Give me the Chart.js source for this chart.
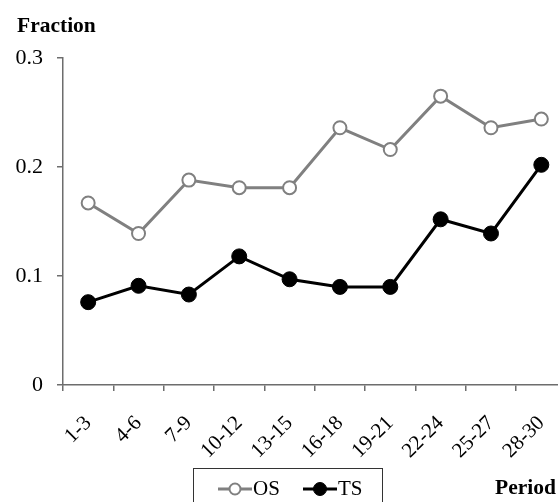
<!DOCTYPE html>
<html>
<head>
<meta charset="utf-8">
<script src="https://cdn.jsdelivr.net/npm/chart.js@4.4.1/dist/chart.umd.min.js"></script>
<style>
  html, body { margin: 0; padding: 0; overflow: hidden; background: #fff; }
  #wrap { position: relative; width: 575px; height: 502px; }
</style>
</head>
<body>
<div id="wrap"><canvas id="chart" width="575" height="502"></canvas></div>
<script>
// data
const periods = ['1-3', '4-6', '7-9', '10-12', '13-15', '16-18', '19-21', '22-24', '25-27', '28-30'];
const osValues = [0.167, 0.139, 0.188, 0.181, 0.181, 0.236, 0.216, 0.265, 0.236, 0.244];
const tsValues = [0.076, 0.091, 0.083, 0.118, 0.097, 0.090, 0.090, 0.152, 0.139, 0.202];
const yTicks = [0, 0.1, 0.2, 0.3];

const axisColor = '#6d6d6d';
const serif = '"Liberation Serif", "Times New Roman", serif';

// titles + boxed legend, drawn after the chart
const extrasPlugin = {
  id: 'extras',
  afterDraw(chart) {
    const ctx = chart.ctx;
    ctx.save();
    ctx.fillStyle = '#000';
    ctx.font = 'bold 21.5px ' + serif;
    ctx.textBaseline = 'alphabetic';
    ctx.textAlign = 'left';
    ctx.fillText('Fraction', 17, 32);
    ctx.fillText('Period', 495, 494);

    // legend box
    ctx.strokeStyle = '#333';
    ctx.lineWidth = 1;
    ctx.strokeRect(193.5, 468.5, 189, 40);

    const items = [
      { x: 218, ds: chart.data.datasets[0] },
      { x: 303, ds: chart.data.datasets[1] },
    ];
    const y = 489;
    items.forEach(({ x, ds }) => {
      ctx.strokeStyle = ds.borderColor;
      ctx.lineWidth = 3;
      ctx.beginPath();
      ctx.moveTo(x, y);
      ctx.lineTo(x + 34, y);
      ctx.stroke();
      ctx.beginPath();
      ctx.arc(x + 17, y, ds.pointRadius - 1, 0, Math.PI * 2);
      ctx.fillStyle = ds.pointBackgroundColor;
      ctx.fill();
      ctx.lineWidth = ds.pointBorderWidth;
      ctx.strokeStyle = ds.pointBorderColor;
      ctx.stroke();
      ctx.fillStyle = '#000';
      ctx.font = '21px ' + serif;
      ctx.fillText(ds.label, x + 35, y + 6);
    });
    ctx.restore();
  },
};

new Chart(document.getElementById('chart'), {
  type: 'line',
  data: {
    labels: periods,
    datasets: [
      {
        label: 'OS',
        data: osValues,
        borderColor: '#808080',
        borderWidth: 3,
        pointRadius: 6.5,
        pointBackgroundColor: '#ffffff',
        pointBorderColor: '#808080',
        pointBorderWidth: 2,
        tension: 0,
      },
      {
        label: 'TS',
        data: tsValues,
        borderColor: '#000000',
        borderWidth: 3,
        pointRadius: 7.5,
        pointBackgroundColor: '#000000',
        pointBorderColor: '#000000',
        pointBorderWidth: 1,
        tension: 0,
      },
    ],
  },
  options: {
    responsive: false,
    animation: false,
    layout: { padding: { top: 58, right: 8, left: 0, bottom: 0 } },
    plugins: {
      legend: { display: false },
      tooltip: { enabled: false },
    },
    scales: {
      x: {
        type: 'category',
        offset: true,
        grid: {
          offset: true,
          drawOnChartArea: false,
          drawTicks: true,
          tickLength: 6,
          color: axisColor,
          lineWidth: 1.5,
        },
        border: { color: axisColor, width: 1.5 },
        ticks: {
          minRotation: 45,
          maxRotation: 45,
          padding: 20,
          color: '#000',
          font: { family: serif, size: 21 },
        },
        afterFit: (s) => {
          s.height = 117;
          s.paddingLeft = 0;
          s.paddingRight = 0;
        },
      },
      y: {
        min: 0,
        max: 0.3,
        afterBuildTicks: (s) => { s.ticks = yTicks.map((v) => ({ value: v })); },
        grid: {
          drawOnChartArea: false,
          drawTicks: true,
          tickLength: 6,
          color: axisColor,
          lineWidth: 1.5,
        },
        border: { color: axisColor, width: 1.5 },
        ticks: {
          padding: 14,
          color: '#000',
          font: { family: serif, size: 22 },
          callback: (v) => String(v),
        },
        afterFit: (s) => { s.width = 63; },
      },
    },
  },
  plugins: [extrasPlugin],
});
</script>
</body>
</html>
